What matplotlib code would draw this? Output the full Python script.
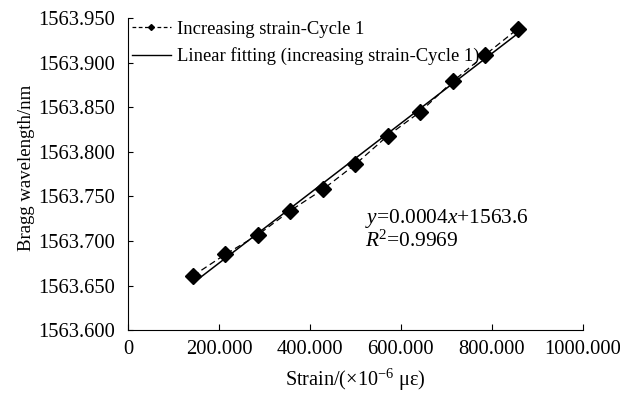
import numpy as np
import matplotlib
matplotlib.use("Agg")
import matplotlib.pyplot as plt
from matplotlib.lines import Line2D

plt.rcParams['font.family'] = ['Liberation Serif', 'DejaVu Serif']
plt.rcParams['mathtext.fontset'] = 'custom'
plt.rcParams['mathtext.rm'] = 'Liberation Serif'
plt.rcParams['mathtext.it'] = 'Liberation Serif:italic'

strain = [143, 214, 286, 357, 429, 500, 571, 643, 714, 786, 857]
wavelength = [1563.661, 1563.685, 1563.707, 1563.734, 1563.758, 1563.786,
              1563.818, 1563.845, 1563.879, 1563.909, 1563.938]
xticks = [0, 200, 400, 600, 800, 1000]
xticklabels = ['0', '200.000', '400.000', '600.000', '800.000', '1000.000']
yticks = [1563.60, 1563.65, 1563.70, 1563.75, 1563.80, 1563.85, 1563.90, 1563.95]

fig = plt.figure(figsize=(6.2, 3.93), dpi=100)
ax = fig.add_axes([0.2065, 0.160, 0.7335, 0.794])

x = np.array(strain, dtype=float)
y = np.array(wavelength)
k, b = np.polyfit(x, y, 1)
ax.plot(x, k * x + b, color='black', lw=1.1, zorder=2)
ax.plot(x, y, color='black', ls=(0, (5, 3)), lw=0.9, marker='D', ms=8,
        zorder=3)

ax.set_xlim(0, 1000)
ax.set_ylim(1563.60, 1563.95)
ax.set_xticks(xticks)
ax.set_xticklabels(xticklabels)
ax.set_yticks(yticks)
ax.set_yticklabels([f'{v:.3f}' for v in yticks])
for s in ['top', 'right']:
    ax.spines[s].set_visible(False)
ax.tick_params(axis='x', direction='in', length=4, width=0.8,
               labelsize=14.8, pad=7)
ax.tick_params(axis='y', direction='in', length=3.5, width=0.8,
               labelsize=14.8, pad=9)
ax.set_xlabel('Strain/(×10$^{-6}$ με)', fontsize=14.6, labelpad=6)
ax.set_ylabel('Bragg wavelength/nm', fontsize=13.5, labelpad=6)
ax.yaxis.set_label_coords(-0.205, 0.52)

h1 = Line2D([], [], color='black', ls=(0, (3, 2)), lw=0.9, marker='D', ms=3)
h2 = Line2D([], [], color='black', lw=1.0)
ax.legend([h1, h2], ['Increasing strain-Cycle 1',
                     'Linear fitting (increasing strain-Cycle 1)'],
          loc='upper left', bbox_to_anchor=(-0.008, 1.015), frameon=False,
          fontsize=13.4, handlelength=2.1, handletextpad=0.35,
          labelspacing=0.5, borderaxespad=0.0)

ax.text(0.522, 0.396, '$y$=0.0004$x$+1563.6\n$R$$^2$=0.9969',
        transform=ax.transAxes, fontsize=15.4, va='top', ha='left',
        linespacing=1.05)

fig.savefig('out.png', dpi=100)
